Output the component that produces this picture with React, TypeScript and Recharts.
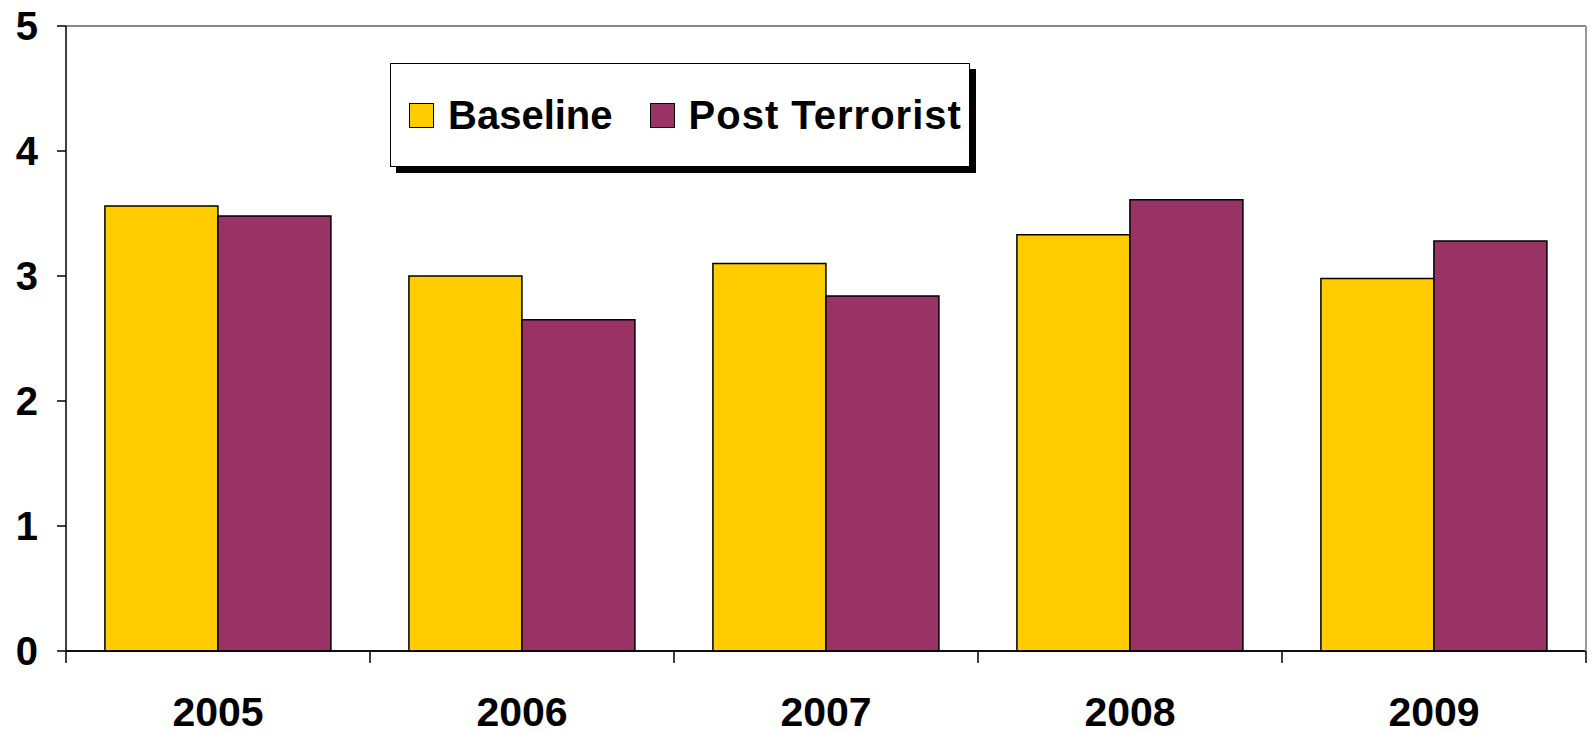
import React from 'react';
import { BarChart, Bar, XAxis, YAxis, CartesianGrid, Legend, ReferenceLine } from 'recharts';

const categories = ['2005', '2006', '2007', '2008', '2009'];
const baselineValues = [3.56, 3.0, 3.1, 3.33, 2.98];
const postTerroristValues = [3.48, 2.65, 2.84, 3.61, 3.28];
const yTicks = [0, 1, 2, 3, 4, 5];
const seriesNames = ['Baseline', 'Post Terrorist'];
const seriesColors = ['#FFCC00', '#993366'];

const data = categories.map((c, i) => ({
  year: c,
  baseline: baselineValues[i],
  post: postTerroristValues[i],
}));

const FONT = '"Liberation Sans", Arial, Helvetica, sans-serif';

function XTick(props: any) {
  const { x, y, payload, index } = props;
  const half = payload && payload.offset ? payload.offset : 152;
  const last = index === categories.length - 1;
  return (
    <g>
      <line x1={x - half} x2={x - half} y1={y} y2={y + 12} stroke="#000" strokeWidth={1.5} />
      {last && <line x1={x + half} x2={x + half} y1={y} y2={y + 12} stroke="#000" strokeWidth={1.5} />}
      <text x={x} y={y + 75} textAnchor="middle" fontFamily={FONT} fontWeight="bold" fontSize={41} fill="#000">
        {payload.value}
      </text>
    </g>
  );
}

function LegendBox() {
  return (
    <div style={{ position: 'relative', width: 586, height: 110 }}>
      <div style={{ position: 'absolute', left: 6, top: 6, width: 580, height: 104, background: '#000' }} />
      <div
        style={{
          position: 'absolute',
          left: 0,
          top: 0,
          width: 580,
          height: 104,
          background: '#fff',
          border: '1px solid #000',
          display: 'flex',
          alignItems: 'center',
          fontFamily: FONT,
          fontWeight: 'bold',
          fontSize: 40,
          color: '#000',
          paddingLeft: 18,
          boxSizing: 'border-box',
        }}
      >
        {seriesNames.map((n, i) => (
          <div key={n} style={{ display: 'flex', alignItems: 'center', marginRight: i === 0 ? 37 : 0 }}>
            <div
              style={{
                width: 25,
                height: 25,
                boxSizing: 'border-box',
                background: seriesColors[i],
                border: '1.5px solid #000',
                marginRight: 14,
              }}
            />
            <span style={{ lineHeight: '40px', letterSpacing: i === 1 ? 1 : 0 }}>{n}</span>
          </div>
        ))}
      </div>
    </div>
  );
}

export default function App() {
  return (
    <div style={{ position: 'absolute', left: 0, top: 0, width: 1591, height: 732, background: '#fff' }}>
      <BarChart
        width={1591}
        height={732}
        data={data}
        margin={{ top: 26, right: 0, bottom: 0, left: 0 }}
        barCategoryGap="12.8%"
        barGap={0}
      >
        <CartesianGrid vertical={false} stroke="#000" strokeWidth={1.5} />
        <ReferenceLine y={5} yAxisId="left" stroke="#888" strokeWidth={2} />
        <XAxis
          dataKey="year"
          interval={0}
          tickLine={false}
          tickSize={0}
          tickMargin={0}
          height={81}
          axisLine={{ stroke: '#000', strokeWidth: 1.5 }}
          tick={<XTick />}
        />
        <YAxis
          yAxisId="left"
          domain={[0, 5]}
          ticks={yTicks}
          interval={0}
          width={66}
          tickSize={9}
          tickMargin={19}
          axisLine={{ stroke: '#000', strokeWidth: 1.5 }}
          tickLine={{ stroke: '#000', strokeWidth: 1.5 }}
          tick={{ fontFamily: FONT, fontWeight: 'bold', fontSize: 40, fill: '#000' }}
        />
        <YAxis
          yAxisId="right"
          orientation="right"
          domain={[0, 5]}
          width={5}
          tick={false}
          tickLine={false}
          axisLine={{ stroke: '#999', strokeWidth: 2 }}
        />
        <Legend
          layout="horizontal"
          verticalAlign="middle"
          align="center"
          content={<LegendBox />}
          wrapperStyle={{ position: 'absolute', left: 390, top: 63, width: 586, height: 110 }}
        />
        <Bar yAxisId="left" dataKey="baseline" name={seriesNames[0]} fill={seriesColors[0]} stroke="#000" strokeWidth={1.5} isAnimationActive={false} />
        <Bar yAxisId="left" dataKey="post" name={seriesNames[1]} fill={seriesColors[1]} stroke="#000" strokeWidth={1.5} isAnimationActive={false} />
      </BarChart>
    </div>
  );
}
